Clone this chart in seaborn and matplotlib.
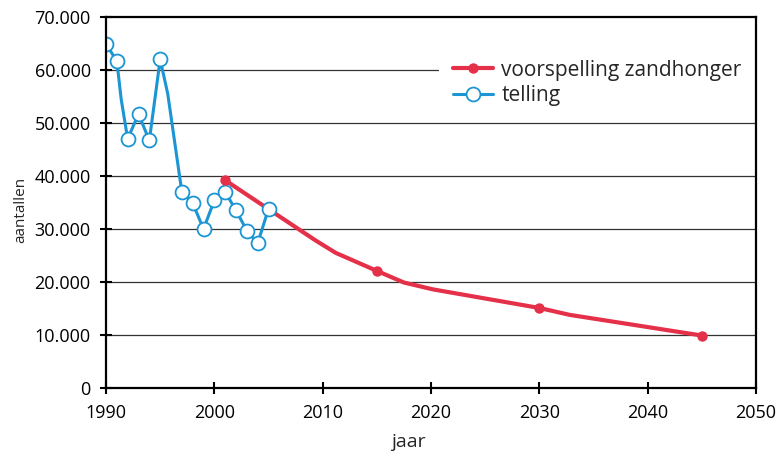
import numpy as np
import pandas as pd
import matplotlib
matplotlib.use("Agg")
import matplotlib.pyplot as plt
from matplotlib.lines import Line2D
from matplotlib.ticker import FuncFormatter
import seaborn as sns

# tellingen (jaar, aantal)
telling_jaar = [1990, 1991, 1992, 1993, 1994, 1995, 1997, 1998, 1999, 2000, 2001, 2002, 2003, 2004, 2005]
telling_aantal = [64900, 61700, 47000, 51700, 46700, 62000, 37000, 34900, 30000, 35400, 37000, 33500, 29700, 27300, 33800]

# verloop van de lijn tussen de tellingen (met knikken)
telling_lijn_jaar = [1990, 1991, 1991.4, 1992, 1993, 1994, 1995, 1995.7, 1997, 1998, 1999, 2000, 2001, 2002, 2003, 2004, 2005]
telling_lijn_aantal = [64900, 61700, 54500, 47000, 51700, 46700, 62000, 55500, 37000, 34900, 30000, 35400, 37000, 33500, 29700, 27300, 33800]

# voorspelling zandhonger: punten en lijnverloop
voorspelling_jaar = [2001, 2015, 2030, 2045]
voorspelling_aantal = [39200, 22100, 15100, 9900]
voorspelling_lijn_jaar = [2001, 2009.3, 2011.2, 2015, 2017.5, 2020.2, 2030, 2032.8, 2045]
voorspelling_lijn_aantal = [39200, 27900, 25500, 22100, 19900, 18600, 15100, 13800, 9900]

rood = "#e5304a"
blauw = "#1b95d3"

sns.set_style("white")
plt.rcParams['font.family'] = ['Open Sans', 'DejaVu Sans']

fig = plt.figure(figsize=(7.76, 4.53), dpi=100)
ax = fig.add_axes([106/776, 1 - 388/453, (756 - 106)/776, (388 - 17)/453])

# rasterlijnen
for v in range(10000, 70000, 10000):
    ax.axhline(v, color="#333333", lw=0.9, zorder=0)

# telling
sns.lineplot(x=telling_lijn_jaar, y=telling_lijn_aantal, color=blauw, lw=2.2,
             estimator=None, sort=False, ax=ax, zorder=2)
sns.lineplot(x=telling_jaar, y=telling_aantal, color=blauw, lw=0, marker="o",
             markersize=10, markerfacecolor="white", markeredgecolor=blauw,
             markeredgewidth=1.3, estimator=None, sort=False, ax=ax, zorder=4)

# voorspelling
sns.lineplot(x=voorspelling_lijn_jaar, y=voorspelling_lijn_aantal, color=rood, lw=3,
             estimator=None, sort=False, ax=ax, zorder=3)
sns.lineplot(x=voorspelling_jaar, y=voorspelling_aantal, color=rood, lw=0, marker="o",
             markersize=7.5, markeredgewidth=0, estimator=None, sort=False, ax=ax, zorder=5)

ax.set_xlim(1990, 2050)
ax.set_ylim(0, 70000)
ax.set_xticks(range(1990, 2051, 10))
ax.set_yticks(range(0, 70001, 10000))
ax.yaxis.set_major_formatter(FuncFormatter(lambda v, p: f"{int(v):,}".replace(",", ".")))
ax.tick_params(axis="both", direction="inout", length=9, width=1.5, labelsize=13,
               colors="black", left=True, bottom=True)
ax.tick_params(axis="x", pad=7)
ax.tick_params(axis="y", pad=6.5)

for s in ax.spines.values():
    s.set_color("black")
    s.set_linewidth(1.6)
    s.set_visible(True)
    s.set_zorder(12)

ax.set_xlabel("jaar", fontsize=14)
ax.xaxis.set_label_coords((408 - 106)/650, -0.12)
ax.set_ylabel("aantallen", fontsize=11)
ax.yaxis.set_label_coords(-0.12, 0.48)

handles = [
    Line2D([], [], color=rood, lw=3, marker="o", markersize=7.5, markeredgewidth=0),
    Line2D([], [], color=blauw, lw=2.2, marker="o", markersize=10,
           markerfacecolor="white", markeredgecolor=blauw, markeredgewidth=1.3),
]
leg = ax.legend(handles, ["voorspelling zandhonger", "telling"], loc="upper right",
                bbox_to_anchor=(1.0, 0.924), borderaxespad=0, fontsize=15,
                frameon=True, facecolor="white", edgecolor="none", framealpha=1,
                handlelength=1.9, handletextpad=0.4, labelspacing=0.2,
                borderpad=0.7)
leg.set_zorder(10)

fig.savefig("out.png", dpi=100)
